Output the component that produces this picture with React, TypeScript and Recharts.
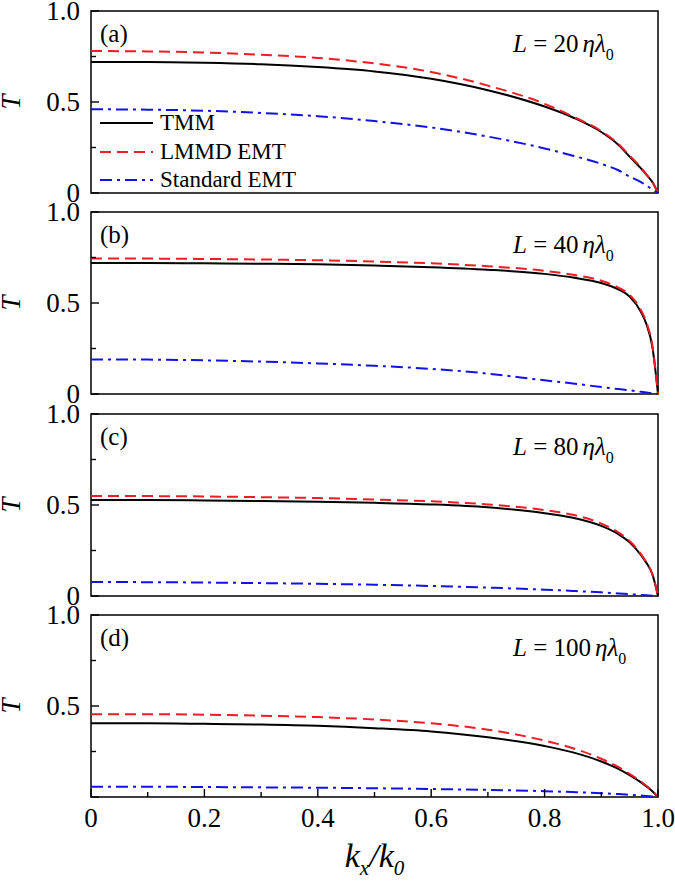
import React from "react";
import { LineChart, Line, XAxis, YAxis, ReferenceArea, Legend } from "recharts";

// k_x / k_0 sample points (denser near 1 where curves drop)
const KX = [0, 0.1, 0.2, 0.3, 0.4, 0.5, 0.6, 0.7, 0.8, 0.85, 0.9, 0.93, 0.95, 0.97, 0.98, 0.99, 1];

// (a) L = 20 ηλ0
const TMM_A = [0.72, 0.72, 0.716, 0.708, 0.692, 0.668, 0.628, 0.565, 0.475, 0.415, 0.335, 0.265, 0.2, 0.135, 0.1, 0.06, 0];
const LMMD_A = [0.78, 0.778, 0.772, 0.76, 0.742, 0.712, 0.665, 0.59, 0.49, 0.42, 0.34, 0.27, 0.205, 0.14, 0.1, 0.06, 0];
const STD_A = [0.46, 0.458, 0.452, 0.44, 0.422, 0.395, 0.36, 0.31, 0.245, 0.205, 0.16, 0.125, 0.09, 0.06, 0.04, 0.02, 0];

// (b) L = 40 ηλ0
const TMM_B = [0.72, 0.72, 0.718, 0.716, 0.713, 0.706, 0.697, 0.683, 0.66, 0.64, 0.61, 0.575, 0.535, 0.45, 0.38, 0.26, 0];
const LMMD_B = [0.745, 0.744, 0.742, 0.739, 0.735, 0.728, 0.718, 0.702, 0.677, 0.655, 0.622, 0.585, 0.545, 0.46, 0.39, 0.27, 0];
const STD_B = [0.19, 0.189, 0.185, 0.178, 0.168, 0.155, 0.138, 0.112, 0.075, 0.058, 0.038, 0.027, 0.02, 0.012, 0.008, 0.004, 0];

// (c) L = 80 ηλ0
const TMM_C = [0.527, 0.527, 0.525, 0.522, 0.518, 0.512, 0.503, 0.487, 0.455, 0.43, 0.385, 0.34, 0.295, 0.225, 0.18, 0.12, 0];
const LMMD_C = [0.55, 0.549, 0.547, 0.543, 0.538, 0.53, 0.52, 0.503, 0.472, 0.446, 0.398, 0.35, 0.302, 0.23, 0.183, 0.12, 0];
const STD_C = [0.077, 0.076, 0.074, 0.071, 0.067, 0.062, 0.055, 0.046, 0.035, 0.028, 0.02, 0.014, 0.01, 0.006, 0.004, 0.002, 0];

// (d) L = 100 ηλ0
const TMM_D = [0.405, 0.405, 0.402, 0.398, 0.391, 0.378, 0.36, 0.328, 0.28, 0.245, 0.195, 0.155, 0.12, 0.08, 0.057, 0.032, 0];
const LMMD_D = [0.455, 0.455, 0.452, 0.447, 0.439, 0.426, 0.405, 0.37, 0.31, 0.268, 0.21, 0.165, 0.127, 0.085, 0.06, 0.034, 0];
const STD_D = [0.056, 0.056, 0.055, 0.053, 0.051, 0.048, 0.044, 0.039, 0.032, 0.027, 0.021, 0.016, 0.012, 0.008, 0.005, 0.003, 0];

const X_TICKS = [0, 0.1, 0.2, 0.3, 0.4, 0.5, 0.6, 0.7, 0.8, 0.9, 1];
const Y_TICKS = [0, 0.25, 0.5, 0.75, 1];

const SERIES = [
  { key: "tmm", name: "TMM", color: "#000000", dash: undefined as string | undefined },
  { key: "lmmd", name: "LMMD EMT", color: "#ee1c25", dash: "11 6" },
  { key: "std", name: "Standard EMT", color: "#1212e6", dash: "12 5 3 5" },
];

const PANELS = [
  { tag: "(a)", len: "20", tmm: TMM_A, lmmd: LMMD_A, std: STD_A, top: 11 },
  { tag: "(b)", len: "40", tmm: TMM_B, lmmd: LMMD_B, std: STD_B, top: 212 },
  { tag: "(c)", len: "80", tmm: TMM_C, lmmd: LMMD_C, std: STD_C, top: 414 },
  { tag: "(d)", len: "100", tmm: TMM_D, lmmd: LMMD_D, std: STD_D, top: 615 },
];

const FONT = '"Liberation Serif", "Times New Roman", serif';
const PLOT_H = 182;
const PAD = 11; // room above/below each plot so edge tick labels are not clipped

function XTick(props: any) {
  const { x, y, payload, showLabel } = props;
  const v = payload.value;
  const major = Math.abs(v * 5 - Math.round(v * 5)) < 1e-6;
  const txt = v === 0 ? "0" : v.toFixed(1);
  return (
    <g>
      <line x1={x} x2={x} y1={y} y2={y - (major ? 8 : 5)} stroke="#000" strokeWidth={1.4} />
      {showLabel && major && (
        <text x={x} y={y + 30} textAnchor="middle" fontFamily={FONT} fontSize={27} fill="#000">
          {txt}
        </text>
      )}
    </g>
  );
}

function YTick(props: any) {
  const { x, y, payload, hideZero } = props;
  const v = payload.value;
  const major = v === 0 || v === 0.5 || v === 1;
  const txt = v === 0 ? "0" : v.toFixed(1);
  return (
    <g>
      <line x1={x} x2={x + (major ? 8 : 5)} y1={y} y2={y} stroke="#000" strokeWidth={1.4} />
      {major && !(hideZero && v === 0) && (
        <text x={x - 11} y={y} dy="0.35em" textAnchor="end" fontFamily={FONT} fontSize={27} fill="#000">
          {txt}
        </text>
      )}
    </g>
  );
}

function AxisT(props: any) {
  const vb = props.viewBox || { x: 40, y: 0, height: PLOT_H };
  const cx = vb.x - 20;
  const cy = vb.y + vb.height / 2;
  return (
    <text x={cx} y={cy} transform={`rotate(-90 ${cx} ${cy})`} textAnchor="middle" fontFamily={FONT} fontStyle="italic" fontSize={27} fill="#000">
      T
    </text>
  );
}

function AxisK(props: any) {
  const vb = props.viewBox || { x: 91, y: 0, width: 567 };
  return (
    <text x={vb.x + vb.width / 2} y={vb.y + 70} textAnchor="middle" fontFamily={FONT} fontStyle="italic" fontSize={34} fill="#000">
      <tspan>k</tspan>
      <tspan fontSize={21} dy={8}>x</tspan>
      <tspan dy={-8}>/k</tspan>
      <tspan fontSize={21} dy={8}>0</tspan>
    </text>
  );
}

function PanelText(props: any) {
  const vb = props.viewBox || { x: 91, y: 0, width: 567 };
  return (
    <g>
      <text x={vb.x + 9} y={vb.y + 31} fontFamily={FONT} fontSize={25} fill="#000">
        {props.tag}
      </text>
      <text x={vb.x + 422} y={vb.y + 41} fontFamily={FONT} fontSize={25} fill="#000">
        <tspan fontStyle="italic">L</tspan>
        <tspan>{` = ${props.len}`}</tspan>
        <tspan fontStyle="italic" dx={4}>ηλ</tspan>
        <tspan fontSize={16} dy={8}>0</tspan>
      </text>
    </g>
  );
}

function LegendBox() {
  return (
    <div style={{ fontFamily: FONT, fontSize: 23, color: "#000", lineHeight: "28.5px" }}>
      {SERIES.map((s) => (
        <div key={s.key} style={{ display: "flex", alignItems: "center", height: 28.5 }}>
          <svg width={56} height={10} style={{ marginRight: 4 }}>
            <line x1={0} x2={53} y1={5} y2={5} stroke={s.color} strokeWidth={2.2} strokeDasharray={s.dash} />
          </svg>
          <span style={{ whiteSpace: "nowrap" }}>{s.name}</span>
        </div>
      ))}
    </div>
  );
}

function Panel({ p, last, first }: { p: (typeof PANELS)[number]; last: boolean; first: boolean }) {
  const data = KX.map((k, i) => ({ k, tmm: p.tmm[i], lmmd: p.lmmd[i], std: p.std[i] }));
  const bottom = last ? 885 - p.top - PLOT_H : PAD;
  const height = PAD + PLOT_H + bottom;
  return (
    <div style={{ position: "absolute", left: 0, top: p.top - PAD, width: 675, height }}>
      <LineChart width={675} height={height} data={data} margin={{ top: PAD, right: 17, bottom: last ? 0 : PAD, left: 40 }}>
        <XAxis
          dataKey="k"
          type="number"
          domain={[0, 1]}
          ticks={X_TICKS}
          interval={0}
          height={last ? bottom : 0}
          axisLine={false}
          tickLine={false}
          tickSize={0}
          tickMargin={0}
          tick={<XTick showLabel={last} />}
          label={last ? <AxisK /> : undefined}
        />
        <YAxis
          type="number"
          domain={[0, 1]}
          ticks={Y_TICKS}
          interval={0}
          width={51}
          axisLine={false}
          tickLine={false}
          tickSize={0}
          tickMargin={0}
          tick={<YTick hideZero={last} />}
          label={<AxisT />}
        />
        <ReferenceArea x1={0} x2={1} y1={0} y2={1} fill="none" stroke="#000" strokeWidth={1.5} label={<PanelText tag={p.tag} len={p.len} />} />
        {SERIES.map((s) => (
          <Line
            key={s.key}
            type="monotone"
            dataKey={s.key}
            name={s.name}
            stroke={s.color}
            strokeWidth={2}
            strokeDasharray={s.dash}
            dot={false}
            isAnimationActive={false}
          />
        ))}
        {first && (
          <Legend
            layout="vertical"
            align="center"
            verticalAlign="middle"
            content={<LegendBox />}
            wrapperStyle={{ left: 100, top: 103 + PAD - 5, width: 250, height: 86 }}
          />
        )}
      </LineChart>
    </div>
  );
}

export default function App() {
  return (
    <div style={{ position: "absolute", left: 0, top: 0, width: 675, height: 885, background: "#fff" }}>
      {PANELS.map((p, i) => (
        <Panel key={p.tag} p={p} first={i === 0} last={i === PANELS.length - 1} />
      ))}
    </div>
  );
}
